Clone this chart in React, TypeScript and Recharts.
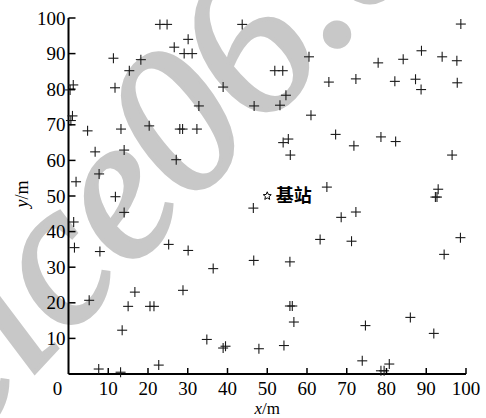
import React from 'react';
import { ScatterChart, Scatter, XAxis, YAxis } from 'recharts';

// Sensor node coordinates (m)
const nodeX = [
  23.0, 24.8, 30.1, 26.6, 29.1, 31.1, 11.3, 18.2, 15.3, 1.2,
  0.4, 11.7, 1.0, 0.6, 4.8, 13.2, 20.3, 28.0, 28.7, 32.3,
  32.8, 38.9, 43.7, 6.7, 14.0, 27.1, 7.7, 1.9, 11.8, 14.0,
  1.3, 1.5, 7.9, 25.2, 30.1, 36.4, 5.2, 16.7, 15.0, 20.5,
  21.5, 28.8, 13.5, 34.8, 38.9, 39.5, 7.6, 13.1, 22.7, 98.7,
  60.5, 51.9, 53.9, 65.5, 72.3, 77.9, 84.2, 88.8, 94.0, 97.7,
  82.1, 87.3, 88.7, 97.8, 54.7, 46.7, 53.2, 61.0, 67.2, 71.8,
  78.6, 82.3, 96.5, 54.0, 55.3, 55.8, 65.0, 93.0, 92.3, 92.7,
  46.5, 72.3, 68.6, 63.3, 71.2, 98.6, 94.5, 46.6, 55.7, 55.7,
  56.3, 56.7, 74.7, 86.0, 91.9, 47.9, 54.2, 73.9, 80.7, 78.6,
  79.4,
];
const nodeY = [
  98.2, 98.2, 94.0, 91.8, 90.0, 90.0, 88.7, 88.3, 85.2, 81.2,
  79.8, 80.4, 72.5, 71.2, 68.3, 68.8, 69.7, 68.8, 68.8, 68.8,
  75.3, 80.6, 98.2, 62.4, 62.9, 60.2, 56.2, 54.0, 49.8, 45.4,
  42.7, 35.5, 34.4, 36.4, 34.7, 29.6, 20.7, 23.0, 19.0, 19.0,
  19.0, 23.5, 12.3, 9.7, 7.3, 7.8, 1.4, 0.5, 2.5, 98.3,
  89.1, 85.2, 85.2, 82.0, 82.9, 87.4, 88.4, 90.8, 89.1, 88.0,
  82.2, 82.8, 79.9, 81.8, 78.3, 75.3, 75.5, 72.7, 67.3, 64.1,
  66.6, 65.3, 61.5, 65.0, 66.0, 61.5, 52.5, 51.9, 49.7, 49.7,
  46.6, 45.5, 44.0, 37.8, 37.3, 38.3, 33.6, 31.9, 31.5, 19.1,
  19.1, 14.6, 13.6, 15.9, 11.4, 7.1, 8.0, 3.7, 2.8, 0.9,
  0.9,
];
const baseStationX = [50];
const baseStationY = [50];
const baseStationLabel = '基站';

const xTicks = [0, 10, 20, 30, 40, 50, 60, 70, 80, 90, 100];
const yTicks = [10, 20, 30, 40, 50, 60, 70, 80, 90, 100];
const xTitle = 'x';
const yTitle = 'y';
const unitText = '/m';
const watermarkHead = 'cice';
const watermarkTail = '06.c';

const nodes = nodeX.map((x, i) => ({ x, y: nodeY[i] }));
const baseData = baseStationX.map((x, i) => ({ x, y: baseStationY[i] }));

const serif: React.CSSProperties = { fontFamily: "'Liberation Serif', 'Times New Roman', Times, serif" };

const Plus = (props: any) => {
  const { cx, cy } = props;
  if (cx == null || cy == null) return null;
  return (
    <g>
      <line x1={cx - 5} y1={cy} x2={cx + 5} y2={cy} stroke="#1a1a1a" strokeWidth={1.1} />
      <line x1={cx} y1={cy - 5} x2={cx} y2={cy + 5} stroke="#1a1a1a" strokeWidth={1.1} />
    </g>
  );
};

const Station = (props: any) => {
  const { cx, cy } = props;
  if (cx == null || cy == null) return null;
  const pts: string[] = [];
  for (let k = 0; k < 10; k++) {
    const r = k % 2 === 0 ? 4.2 : 1.9;
    const a = -Math.PI / 2 + (k * Math.PI) / 5;
    pts.push(`${cx + r * Math.cos(a)},${cy + r * Math.sin(a)}`);
  }
  return (
    <g>
      <polygon points={pts.join(' ')} fill="#fff" stroke="#000" strokeWidth={1} />
      <text
        x={cx + 8.5}
        y={cy}
        dy="0.36em"
        fontSize={18}
        fontWeight={700}
        style={{ fontFamily: "'Noto Sans CJK SC', sans-serif" }}
        fill="#000"
      >
        {baseStationLabel}
      </text>
    </g>
  );
};

const XTick = (props: any) => {
  const { x, y, payload } = props;
  const v = payload.value;
  return (
    <g>
      {v !== 0 && <line x1={x} y1={y} x2={x} y2={y - 6} stroke="#000" strokeWidth={1.5} />}
      <text x={v === 0 ? x - 11 : x} y={y + 20.5} textAnchor="middle" fontSize={19} style={serif} fill="#000">
        {v}
      </text>
    </g>
  );
};

const YTick = (props: any) => {
  const { x, y, payload } = props;
  return (
    <g>
      <line x1={x} y1={y} x2={x + 7} y2={y} stroke="#000" strokeWidth={1.5} />
      <text x={x - 3} y={y} dy="0.35em" textAnchor="end" fontSize={19} style={serif} fill="#000">
        {payload.value}
      </text>
    </g>
  );
};

export default function App() {
  const W = 486;
  const H = 418;
  const px = 190;
  const py = 206;
  return (
    <div style={{ position: 'absolute', left: 0, top: 0, width: W, height: H, background: '#fff' }}>
      <svg width={W} height={H} style={{ position: 'absolute', left: 0, top: 0 }}>
        <g transform={`rotate(-47 ${px} ${py})`}>
          <text x={px} y={py} textAnchor="end" fontSize={205} fontStyle="italic" style={serif} fill="#c8c8c8" stroke="#c8c8c8" strokeWidth={4}>
            {watermarkHead}
          </text>
          <text x={px} y={py} textAnchor="start" fontSize={205} fontStyle="italic" style={serif} fill="#c8c8c8" stroke="#c8c8c8" strokeWidth={4}>
            {watermarkTail}
          </text>
        </g>
      </svg>
      <div style={{ position: 'absolute', left: 0, top: 0 }}>
        <ScatterChart width={W} height={H} margin={{ top: 18, right: 20, bottom: 0, left: 0 }}>
          <XAxis
            type="number"
            dataKey="x"
            domain={[0, 100]}
            ticks={xTicks}
            interval={0}
            height={44}
            tickSize={0}
            tickMargin={0}
            tickLine={false}
            axisLine={{ stroke: '#000', strokeWidth: 2 }}
            tick={(p: any) => <XTick {...p} />}
            label={(p: any) => {
              const vb = p.viewBox || {};
              const cx = vb.x + vb.width / 2;
              return (
                <text x={cx} y={vb.y + 40.2} textAnchor="middle" fontSize={17} style={serif} fill="#000">
                  <tspan fontStyle="italic">{xTitle}</tspan>
                  <tspan>{unitText}</tspan>
                </text>
              );
            }}
          />
          <YAxis
            type="number"
            dataKey="y"
            domain={[0, 100]}
            ticks={yTicks}
            interval={0}
            width={68.5}
            tickSize={0}
            tickMargin={0}
            tickLine={false}
            axisLine={{ stroke: '#000', strokeWidth: 2 }}
            tick={(p: any) => <YTick {...p} />}
            label={(p: any) => {
              const vb = p.viewBox || {};
              const cy = vb.y + vb.height / 2 - 2;
              const cx = 22;
              return (
                <text
                  x={cx}
                  y={cy}
                  transform={`rotate(-90 ${cx} ${cy})`}
                  textAnchor="middle"
                  dy="0.35em"
                  fontSize={18}
                  style={serif}
                  fill="#000"
                >
                  <tspan fontStyle="italic">{yTitle}</tspan>
                  <tspan>{unitText}</tspan>
                </text>
              );
            }}
          />
          <Scatter data={nodes} isAnimationActive={false} shape={(p: any) => <Plus {...p} />} />
          <Scatter data={baseData} isAnimationActive={false} shape={(p: any) => <Station {...p} />} />
        </ScatterChart>
      </div>
    </div>
  );
}
